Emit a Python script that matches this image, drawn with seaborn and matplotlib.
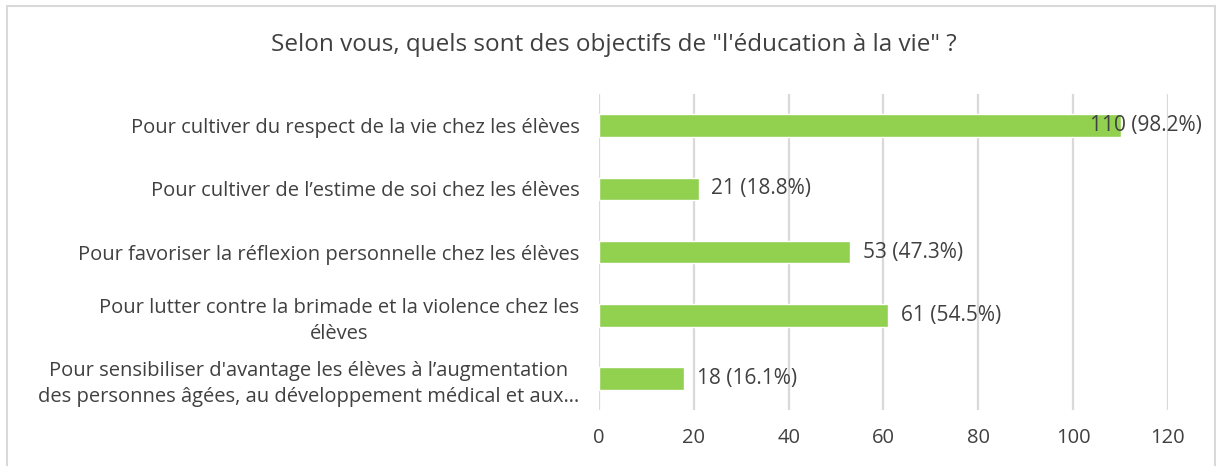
import matplotlib
matplotlib.use("Agg")
import matplotlib.pyplot as plt
import seaborn as sns
import pandas as pd
from matplotlib.patches import Rectangle

categories = [
    "Pour cultiver du respect de la vie chez les élèves",
    "Pour cultiver de l\u2019estime de soi chez les élèves",
    "Pour favoriser la réflexion personnelle chez les élèves",
    "Pour lutter contre la brimade et la violence chez les\nélèves",
    "Pour sensibiliser d'avantage les élèves à l\u2019augmentation\ndes personnes âgées, au développement médical et aux\u2026",
]
counts = [110, 21, 53, 61, 18]
percents = [98.2, 18.8, 47.3, 54.5, 16.1]
x_ticks = [0, 20, 40, 60, 80, 100, 120]

df = pd.DataFrame({"objectif": categories, "n": counts, "pct": percents})

sns.set_theme(style="white")
plt.rcParams["font.family"] = ["Open Sans", "DejaVu Sans"]

text_col = "#404040"
grid_col = "#D9D9D9"

fig = plt.figure(figsize=(12.16, 4.66), dpi=100)
ax = fig.add_axes([0.4926, 0.12, 0.4679, 0.678])

sns.barplot(data=df, x="n", y="objectif", color="#92D050", saturation=1,
            width=0.36, orient="h", ax=ax, zorder=3)

ax.set_xlim(0, 120)
ax.set_ylim(4.5, -0.5)
ax.set_xticks(x_ticks)
ax.xaxis.grid(True, color=grid_col, linewidth=1.6, zorder=0)
ax.set_axisbelow(True)
for s in ax.spines.values():
    s.set_visible(False)
ax.set_xlabel("")
ax.set_ylabel("")
ax.tick_params(axis="x", colors=text_col, labelsize=14.5, length=0, pad=13)
ax.tick_params(axis="y", colors=text_col, labelsize=14.5, length=0, pad=14)
for lab in ax.get_yticklabels():
    lab.set_multialignment("center")
    lab.set_linespacing(1.4)

# data labels
for i, (n, p) in enumerate(zip(counts, percents)):
    off = -22 if n >= 100 else 9
    ax.annotate(f"{n} ({p}%)", xy=(n, i), xytext=(off, 0),
                textcoords="offset points", ha="left", va="center",
                fontsize=15, color=text_col, zorder=4)

fig.text(0.505, 1 - 45 / 466, "Selon vous, quels sont des objectifs de \"l'éducation à la vie\" ?",
         ha="center", va="center", fontsize=17.5, color=text_col)

fig.patches.append(Rectangle((7 / 1216, -0.01), (1215 - 7) / 1216, 1.01 - 6 / 466,
                             transform=fig.transFigure, fill=False,
                             edgecolor=grid_col, linewidth=1.5))

fig.savefig("out.png", dpi=100)
